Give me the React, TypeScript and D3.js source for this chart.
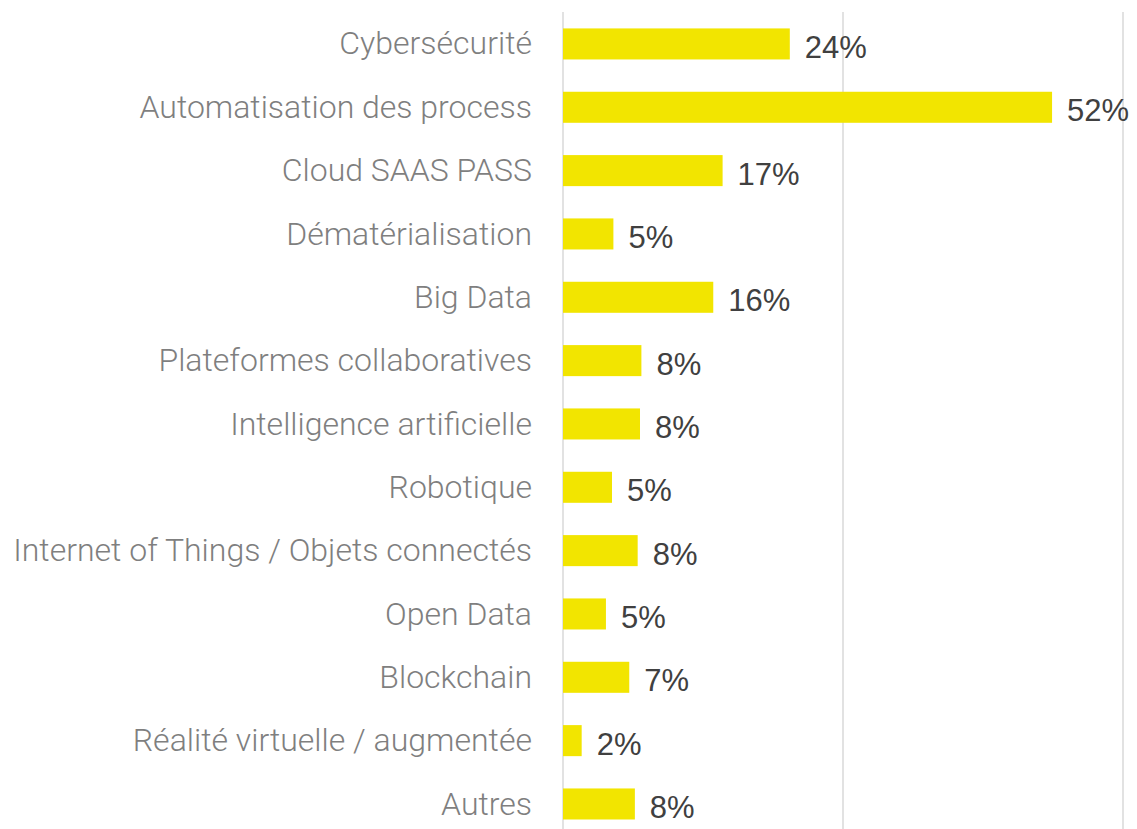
import React from "react";
import * as d3 from "d3";

const categories = [
  "Cybersécurité",
  "Automatisation des process",
  "Cloud SAAS PASS",
  "Dématérialisation",
  "Big Data",
  "Plateformes collaboratives",
  "Intelligence artificielle",
  "Robotique",
  "Internet of Things / Objets connectés",
  "Open Data",
  "Blockchain",
  "Réalité virtuelle / augmentée",
  "Autres",
];
const values = [0.243, 0.524, 0.171, 0.054, 0.161, 0.084, 0.0825, 0.0525, 0.08, 0.046, 0.071, 0.02, 0.077];
const gridTicks = [0, 0.3, 0.6];

const W = 1137;
const H = 829;

export default function App() {
  const x = d3.scaleLinear().domain([0, 0.6]).range([563, 1123]);
  const y = d3.scaleBand<string>().domain(categories).range([12.9, 835]).paddingInner(0.51).paddingOuter(0.245);
  const fmt = d3.format(".0%");
  return (
    <div style={{ position: "absolute", left: 0, top: 0 }}>
      <svg width={W} height={H} style={{ display: "block", background: "#fff" }}>
        {gridTicks.map((t) => (
          <line key={t} x1={x(t)} x2={x(t)} y1={12} y2={H} stroke="#d9d9d9" strokeWidth={1.5} />
        ))}
        {categories.map((c, i) => {
          const yy = y(c)!;
          const bw = y.bandwidth();
          return (
            <g key={c}>
              <rect x={x(0)} y={yy} width={x(values[i]) - x(0)} height={bw} fill="#f2e500" />
              <text
                x={532}
                y={yy + bw / 2}
                dy="0.33em"
                textAnchor="end"
                fontFamily="Roboto"
                fontWeight={300}
                fontSize={32}
                fill="#7f7f7f"
              >
                {c}
              </text>
              <text
                x={x(values[i]) + 15}
                y={yy + bw / 2}
                dy="0.45em"
                fontFamily="'Liberation Sans', Arial, sans-serif"
                fontSize={31}
                fill="#404040"
              >
                {fmt(values[i])}
              </text>
            </g>
          );
        })}
      </svg>
    </div>
  );
}
